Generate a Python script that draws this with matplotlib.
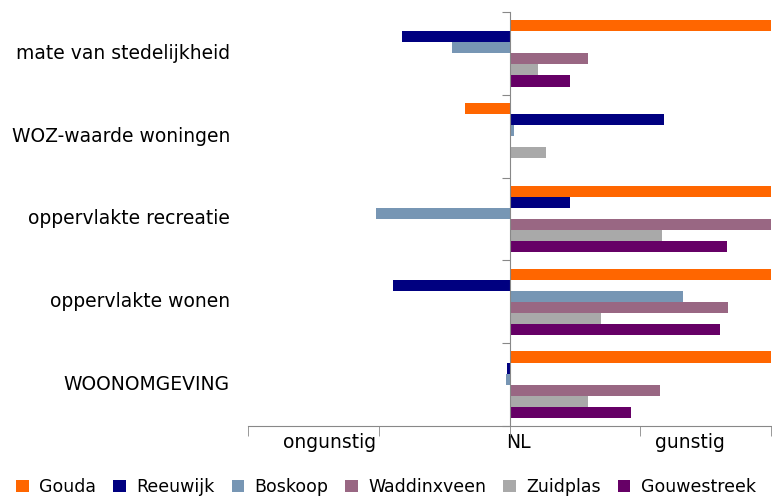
import matplotlib
matplotlib.use("Agg")
import matplotlib.pyplot as plt
import matplotlib.transforms as mtransforms
import numpy as np

categories = ["mate van stedelijkheid", "WOZ-waarde woningen", "oppervlakte recreatie",
              "oppervlakte wonen", "WOONOMGEVING"]
series_names = ["Gouda", "Reeuwijk", "Boskoop", "Waddinxveen", "Zuidplas", "Gouwestreek"]
colors = ["#FF6600", "#000080", "#7796B4", "#996783", "#A9A9A9", "#660066"]

gouda       = [1.2, -0.17, 1.2, 1.2, 1.2]
reeuwijk    = [-0.41, 0.59, 0.23, -0.445, -0.008]
boskoop     = [-0.22, 0.017, -0.51, 0.665, -0.012]
waddinxveen = [0.30, 0.005, 1.1, 0.835, 0.575]
zuidplas    = [0.11, 0.14, 0.585, 0.35, 0.30]
gouwestreek = [0.23, 0.0, 0.83, 0.805, 0.465]
series = [gouda, reeuwijk, boskoop, waddinxveen, zuidplas, gouwestreek]

x_label_names = ["ongunstig", "NL", "gunstig"]
x_label_pos = [-0.69, 0.035, 0.69]

fig = plt.figure(figsize=(7.72, 5.01), dpi=100)
ax = fig.add_axes([248/772, 1-426/501, (771-248)/772, (426-12)/501])

n = len(categories)
bh = 0.8 / len(series)
for i, (vals, name, c) in enumerate(zip(series, series_names, colors)):
    ys = [(n - 1 - k) + 0.4 - bh/2 - i*bh for k in range(n)]
    ax.barh(ys, vals, height=bh, color=c, label=name, edgecolor="none")

ax.set_xlim(-1, 1)
ax.set_ylim(-0.5, n - 0.5)

for s in ["top", "right"]:
    ax.spines[s].set_visible(False)
ax.spines["left"].set_position(("data", 0))
ax.spines["left"].set_color("#888888")
ax.spines["bottom"].set_color("#888888")

ax.set_yticks(np.arange(-0.5, n, 1.0))
ax.set_yticklabels([])
ax.tick_params(axis="y", direction="out", length=6, color="#888888")

ax.set_xticks([-1, -0.5, 0, 0.5, 1], minor=True)
ax.tick_params(axis="x", which="minor", direction="out", length=7, color="#888888")
ax.set_xticks(x_label_pos)
ax.set_xticklabels(x_label_names, fontsize=13.5)
ax.tick_params(axis="x", which="major", length=0, pad=5)

trans = mtransforms.blended_transform_factory(ax.transAxes, ax.transData)
for k, cat in enumerate(categories):
    ax.text(-18/523, n - 1 - k, cat, transform=trans, ha="right", va="center", fontsize=13.5)

leg = fig.legend(loc="lower center", bbox_to_anchor=(0.5, -0.022), ncol=6, frameon=False,
                 fontsize=12.5, handlelength=0.7, handleheight=0.7, handletextpad=0.6,
                 columnspacing=1.0)

fig.savefig("out.png", dpi=100)
